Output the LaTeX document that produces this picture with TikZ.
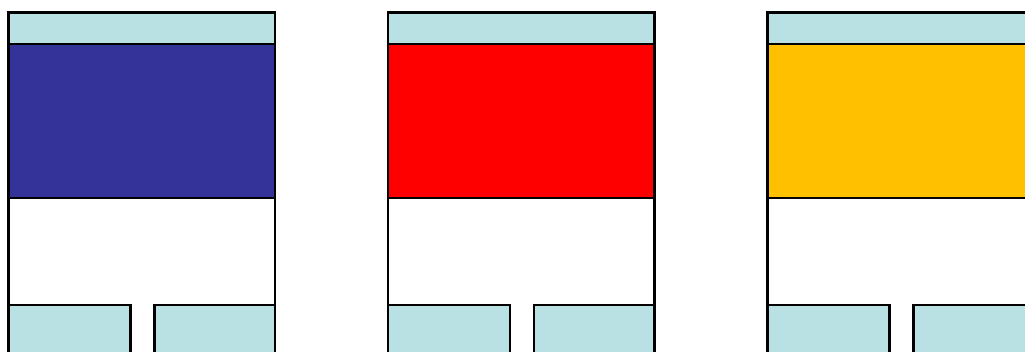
\documentclass[tikz,border=0pt]{standalone}
\definecolor{capblue}{RGB}{185,224,227}
\definecolor{navyfill}{RGB}{51,51,153}
\definecolor{redfill}{RGB}{255,0,0}
\definecolor{amberfill}{RGB}{255,192,0}
\begin{document}
\begin{tikzpicture}[x=.75pt,y=-.75pt,edge/.style={draw=black,line width=1.6pt}]
\path[use as bounding box] (0,0) rectangle (1025,352);
\clip (0,0) rectangle (1025,352);
\foreach \dx/\col in {0/navyfill,379.5/redfill,759/amberfill}{
\draw[edge,fill=capblue] ({8.5+\dx},12.5) rectangle ({275+\dx},44);
\draw[edge,fill=\col] ({8.5+\dx},44) rectangle ({275+\dx},198);
\draw[edge] ({8.5+\dx},198)--({8.5+\dx},305);
\draw[edge] ({275+\dx},198)--({275+\dx},305);
\draw[edge,fill=capblue] ({8.5+\dx},305) rectangle ({130.5+\dx},370);
\draw[edge,fill=capblue] ({154.5+\dx},305) rectangle ({275+\dx},370);
}
\end{tikzpicture}
\end{document}
